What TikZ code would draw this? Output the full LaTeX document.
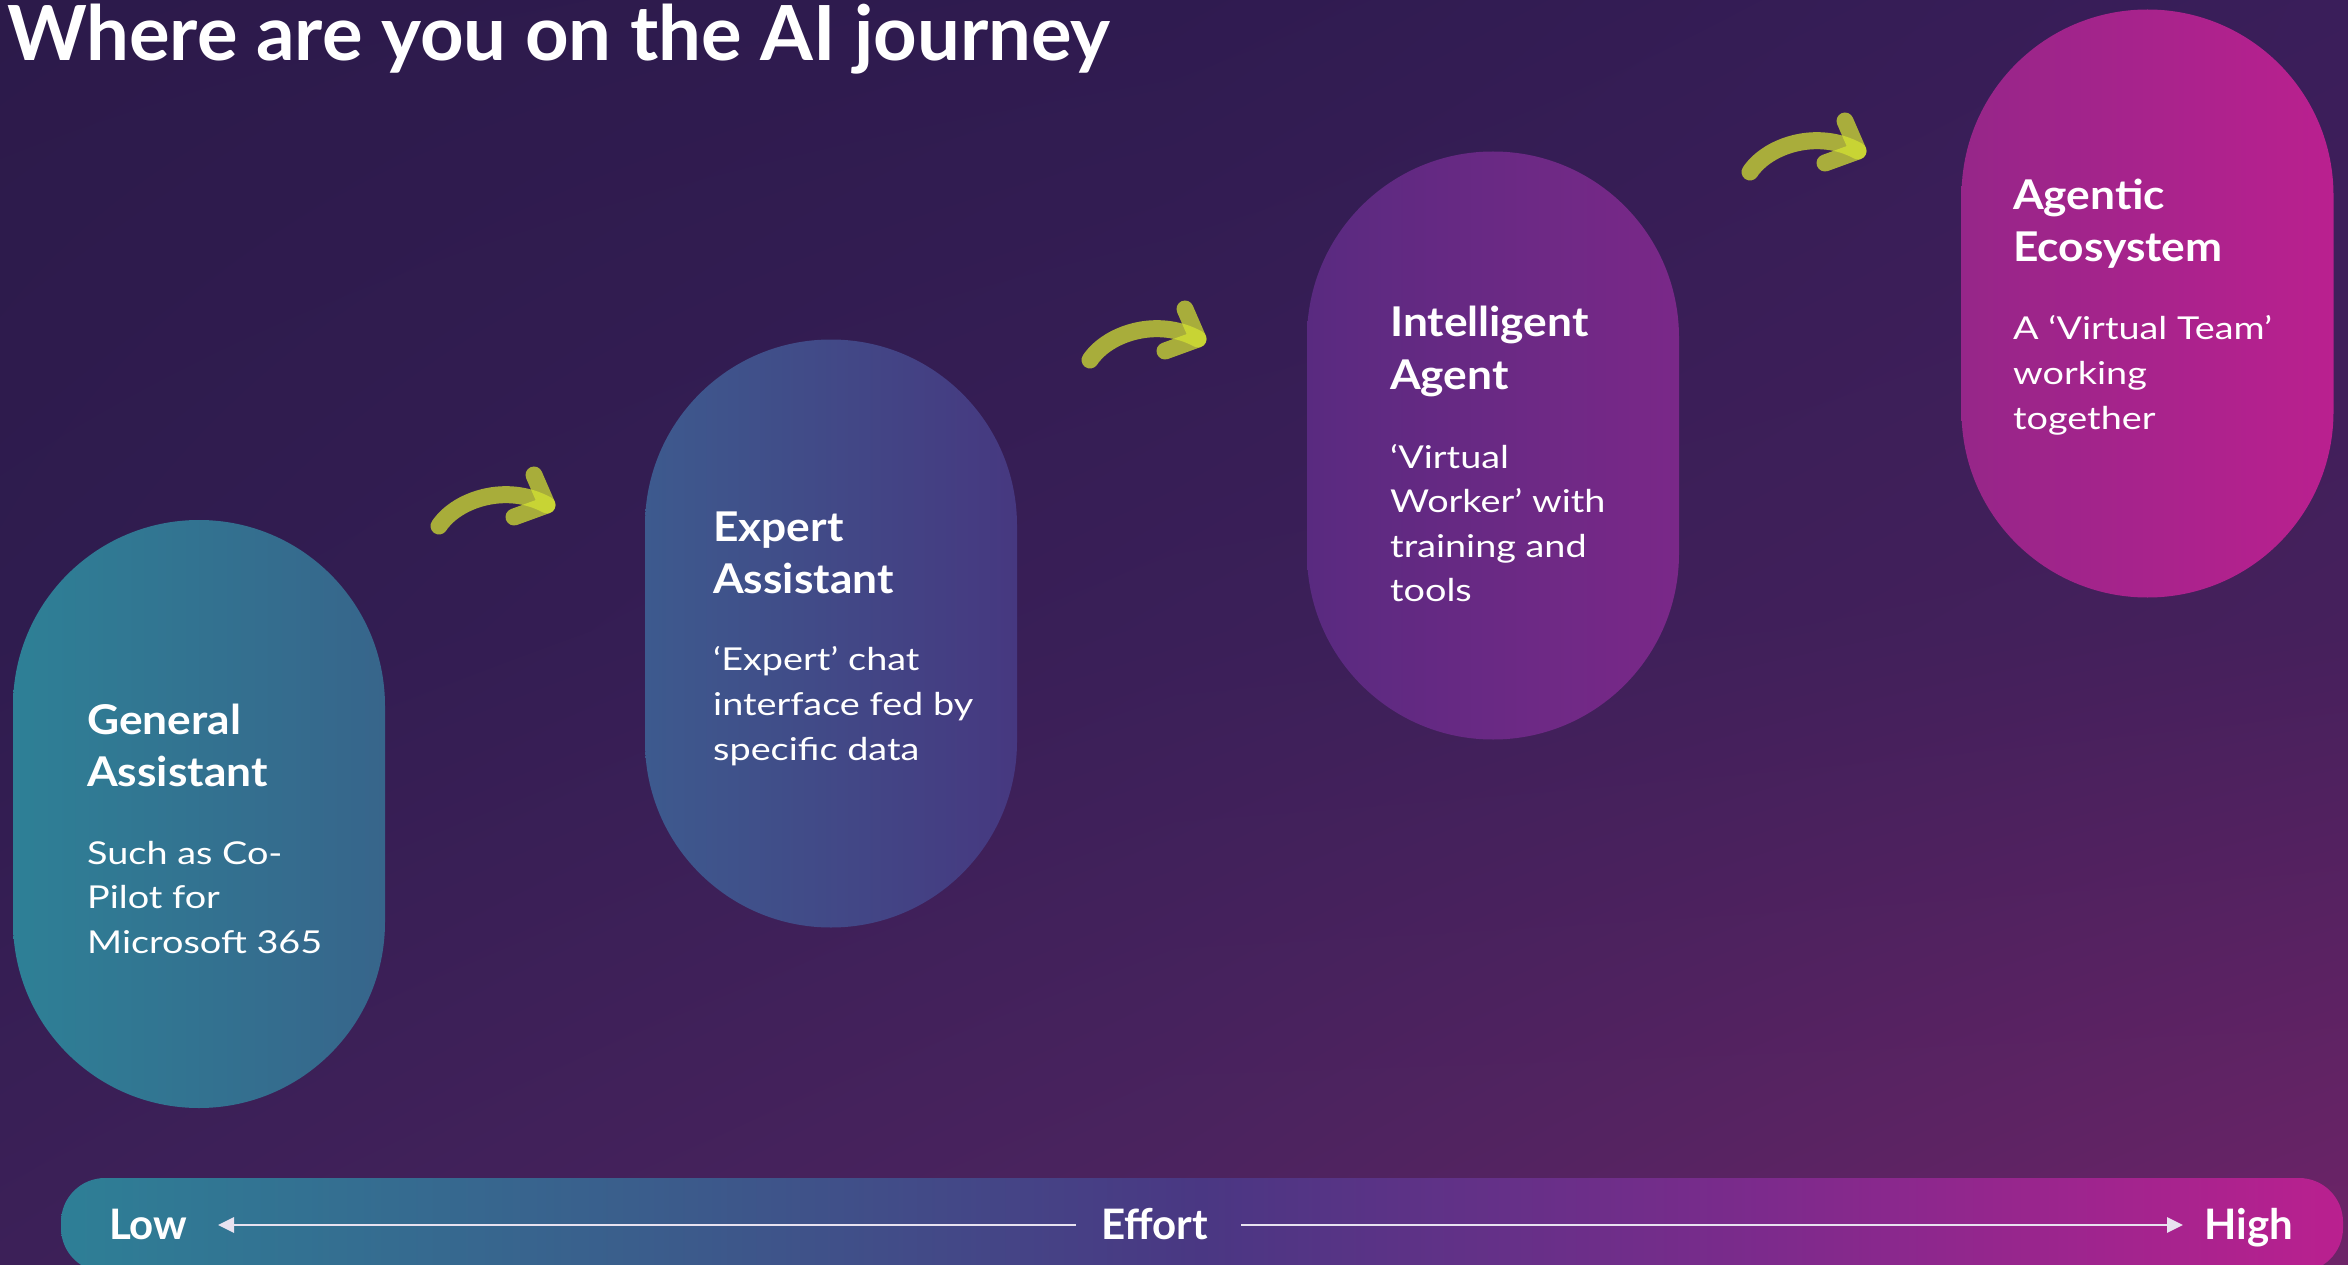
\documentclass[tikz,border=0pt]{standalone}
\usepackage{fontspec}
\setmainfont{Lato}
\newfontfamily\titlefam{Lato}
\newfontfamily\headfam{Lato}[FakeStretch=1.08]
\newfontfamily\bodyfam{Lato}[FakeStretch=1.2]
\usetikzlibrary{arrows.meta,calc,shadings}
% background grid colours
\definecolor{bgA}{HTML}{2C1A4A}
\definecolor{bgB}{HTML}{2F1B50}
\definecolor{bgC}{HTML}{3A1E5A}
\definecolor{bgD}{HTML}{2F1C4F}
\definecolor{bgE}{HTML}{3A1F58}
\definecolor{bgF}{HTML}{46205C}
\definecolor{bgG}{HTML}{3C2058}
\definecolor{bgH}{HTML}{4E2460}
\definecolor{bgI}{HTML}{6E2468}
% pills
\definecolor{pAl}{HTML}{2E8096}
\definecolor{pAr}{HTML}{37658B}
\definecolor{pBl}{HTML}{3D5A8E}
\definecolor{pBr}{HTML}{463880}
\definecolor{pCl}{HTML}{592A80}
\definecolor{pCr}{HTML}{7A2888}
\definecolor{pDl}{HTML}{962689}
\definecolor{pDr}{HTML}{BA208F}
% bar
\definecolor{barA}{HTML}{2E7F96}
\definecolor{barB}{HTML}{3A5E8C}
\definecolor{barC}{HTML}{4A3783}
\definecolor{barD}{HTML}{7D2A8C}
\definecolor{barE}{HTML}{BA208F}
\definecolor{barline}{HTML}{E8E2F0}
\definecolor{arrowgreen}{RGB}{212,227,50}
\pgfdeclarehorizontalshading{barshade}{100bp}{color(0bp)=(barA); color(25bp)=(barA); color(37.5bp)=(barB); color(50bp)=(barC); color(62.5bp)=(barD); color(75bp)=(barE); color(100bp)=(barE)}
\tikzset{
  pill/.style={minimum width=372pt, minimum height=588pt, inner sep=0pt, rounded corners=185.9pt, draw=none},
  headtxt/.style={anchor=base west, inner sep=0pt, text=white, font=\headfam\bfseries\fontsize{41}{49}\selectfont},
  bodytxt/.style={anchor=base west, inner sep=0pt, text=white, font=\bodyfam\fontsize{31.5}{44}\selectfont},
  bartxt/.style={anchor=base west, inner sep=0pt, text=white, font=\titlefam\bfseries\fontsize{42}{50}\selectfont},
  jarrow/.style={draw=arrowgreen, draw opacity=0.73, line width=17pt, line cap=round, line join=round},
  barlinestyle/.style={draw=barline, line width=2.7pt, -{Triangle[length=16pt,width=15pt]}},
}
\newcommand\journeyarrow[1]{%
  \draw[jarrow] (#1) .. controls ($(#1)+(18,-27)$) and ($(#1)+(68,-43)$) .. ($(#1)+(108,-21)$);
  \draw[jarrow] ($(#1)+(95,-51)$) -- ($(#1)+(108,-21)$) -- ($(#1)+(75,-9)$);
}
\begin{document}
\begin{tikzpicture}[x=1pt,y=-1pt]
\useasboundingbox (0,0) rectangle (2348,1265);
\clip (0,0) rectangle (2348,1265);
% background
\shade[upper left=bgA, upper right=bgB, lower left=bgD, lower right=bgE] (0,0) rectangle (1175,633);
\shade[upper left=bgB, upper right=bgC, lower left=bgE, lower right=bgF] (1174,0) rectangle (2348,633);
\shade[upper left=bgD, upper right=bgE, lower left=bgG, lower right=bgH] (0,632) rectangle (1175,1265);
\shade[upper left=bgE, upper right=bgF, lower left=bgH, lower right=bgI] (1174,632) rectangle (2348,1265);

% title
\node[anchor=base west, inner sep=0pt, text=white, font=\titlefam\bfseries\fontsize{76}{84}\selectfont] (title) at (7,61) {Where are you on the AI journey};

% pills
\node[pill, left color=pAl, right color=pAr] (p1) at (199,814) {};
\node[pill, left color=pBl, right color=pBr] (p2) at (831,633.5) {};
\node[pill, left color=pCl, right color=pCr] (p3) at (1493,445.5) {};
\node[pill, left color=pDl, right color=pDr] (p4) at (2147.5,303.5) {};

% pill 1 text
\node[headtxt] (p1h1) at (87,734) {General};
\node[headtxt] (p1h2) at (87,786) {Assistant};
\node[bodytxt] (p1b1) at (87,864) {Such as Co-};
\node[bodytxt] (p1b2) at (87,908.5) {Pilot for};
\node[bodytxt] (p1b3) at (87,953) {Microsoft 365};
% pill 2 text
\node[headtxt] (p2h1) at (713,541) {Expert};
\node[headtxt] (p2h2) at (713,593) {Assistant};
\node[bodytxt] (p2b1) at (713,670) {‘Expert’ chat};
\node[bodytxt] (p2b2) at (713,715) {interface fed by};
\node[bodytxt] (p2b3) at (713,760) {specific data};
% pill 3 text
\node[headtxt] (p3h1) at (1390,337) {Intelligent};
\node[headtxt] (p3h2) at (1390,389) {Agent};
\node[bodytxt] (p3b1) at (1390,468) {‘Virtual};
\node[bodytxt] (p3b2) at (1390,512.5) {Worker’ with};
\node[bodytxt] (p3b3) at (1390,557) {training and};
\node[bodytxt] (p3b4) at (1390,601.5) {tools};
% pill 4 text
\node[headtxt] (p4h1) at (2013,210) {Agentic};
\node[headtxt] (p4h2) at (2013,262) {Ecosystem};
\node[bodytxt] (p4b1) at (2013,339) {A ‘Virtual Team’};
\node[bodytxt] (p4b2) at (2013,384) {working};
\node[bodytxt] (p4b3) at (2013,429) {together};

% curved arrows
\coordinate (arr1) at (439,526);
\coordinate (arr2) at (1090,360);
\coordinate (arr3) at (1750,172);
\journeyarrow{arr1}
\journeyarrow{arr2}
\journeyarrow{arr3}

% effort bar
\node[minimum width=2282pt, minimum height=94pt, inner sep=0pt, rounded corners=44pt, shading=barshade] (bar) at (1202,1225) {};
\node[bartxt] (low) at (109,1239) {Low};
\node[bartxt] (effort) at (1101,1239) {Effort};
\node[bartxt] (high) at (2204,1239) {High};
\coordinate (effL) at (1076,1225);
\coordinate (effR) at (1241,1225);
\coordinate (lowtip) at (218,1225);
\coordinate (hightip) at (2183,1225);
\draw[barlinestyle] (effL) -- (lowtip);
\draw[barlinestyle] (effR) -- (hightip);
\end{tikzpicture}
\end{document}
